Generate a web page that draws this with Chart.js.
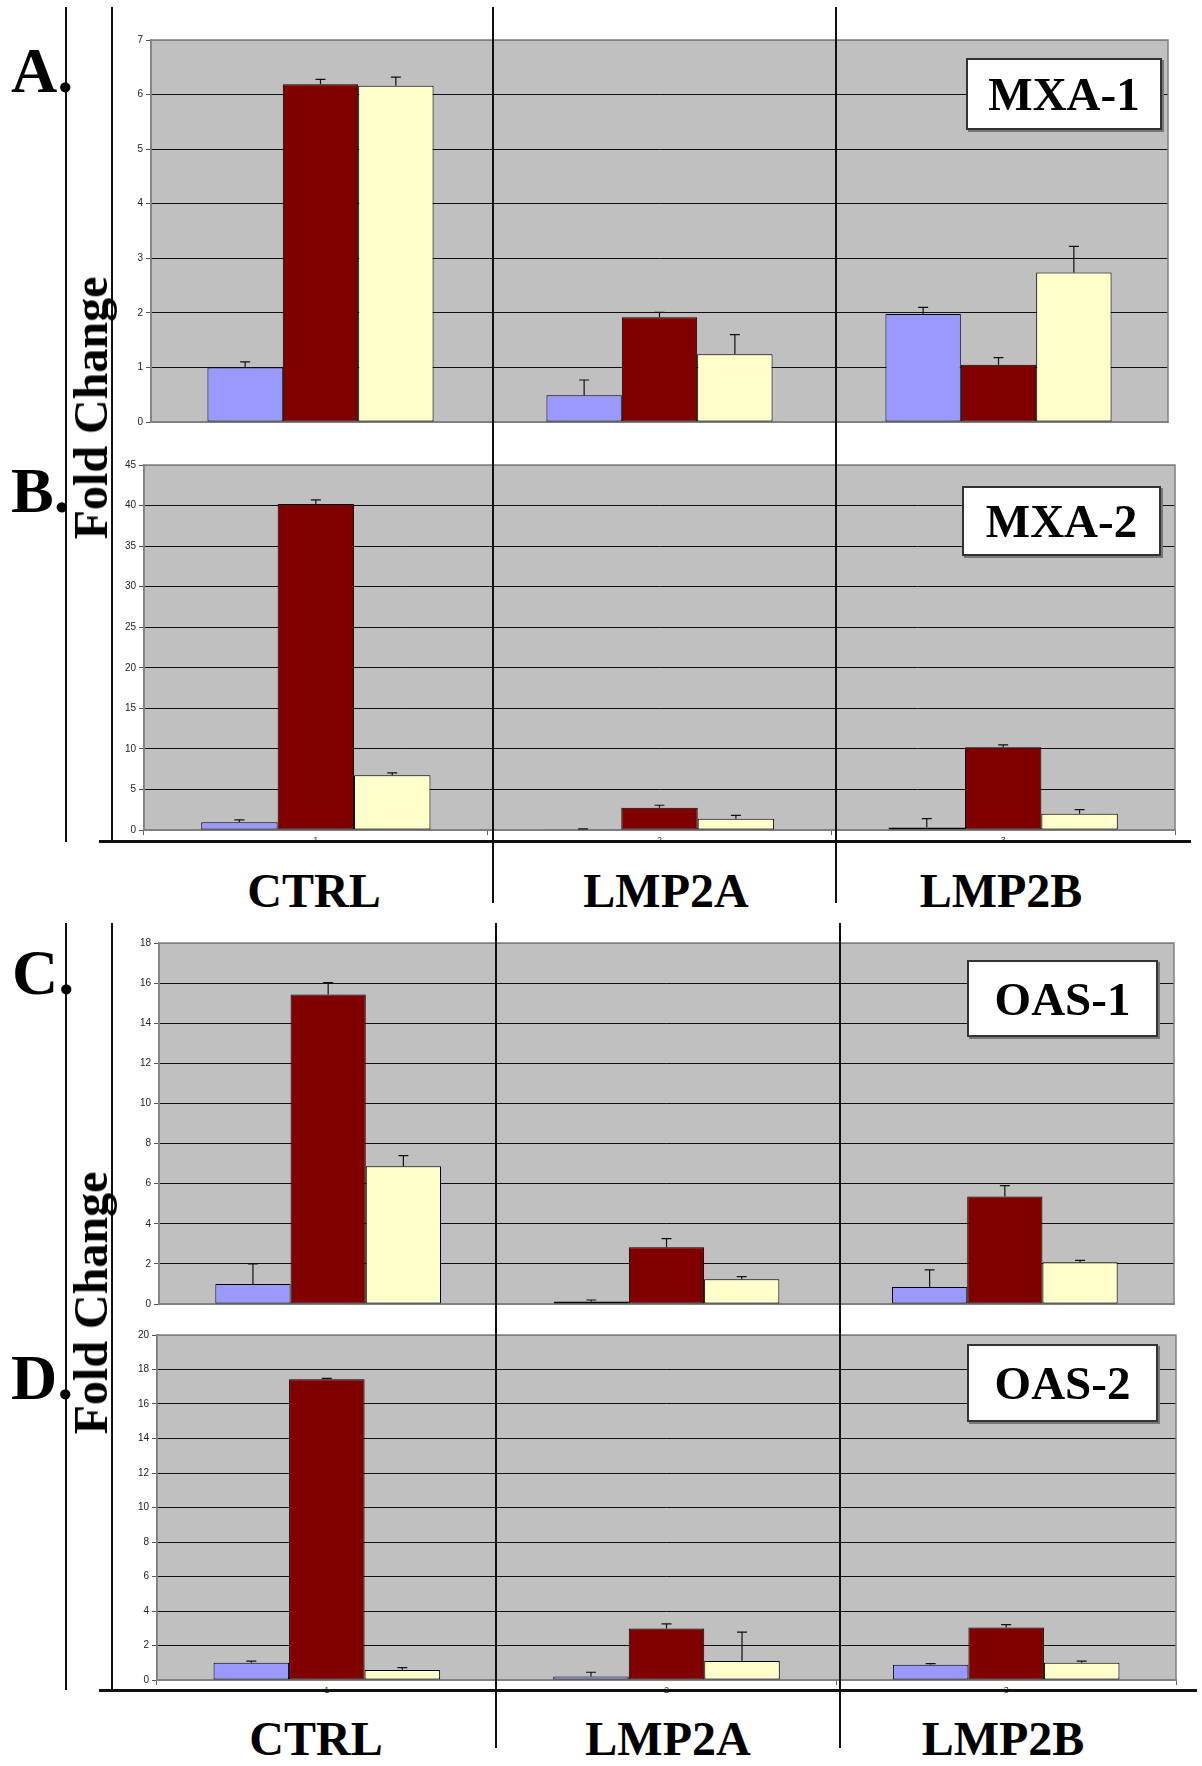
<!DOCTYPE html>
<html>
<head>
<meta charset="utf-8">
<script src="https://cdn.jsdelivr.net/npm/chart.js@4.4.0/dist/chart.umd.min.js"></script>
<style>
  body { margin: 0; background: #fff; }
  #fig { position: relative; width: 1202px; height: 1766px; overflow: hidden; }
  #fig canvas { position: absolute; }
  .ln { position: absolute; background: #111; z-index: 5; }
  .big { position: absolute; font-family: "Liberation Serif", "Times New Roman", serif; font-weight: bold; line-height: 1; white-space: nowrap; z-index: 6; color: #000; }
  .box { position: absolute; box-sizing: border-box; background: #fff; border: 2px solid #333; box-shadow: 2px 2px 0 #777;
         display: flex; align-items: center; justify-content: center; z-index: 6;
         font-family: "Liberation Serif", "Times New Roman", serif; font-weight: bold; font-size: 47px; }
</style>
</head>
<body>
<div id="fig">
  <canvas id="cA" width="1077" height="412"></canvas>
  <canvas id="cB" width="1091" height="395"></canvas>
  <canvas id="cC" width="1075" height="391"></canvas>
  <canvas id="cD" width="1079" height="375"></canvas>
</div>
<script>
// categories (excel default numbering) and group names
var categories = ['1', '2', '3'];
var groups = ['CTRL', 'LMP2A', 'LMP2B'];

// A. MXA-1
var mxa1Blue = [1.0, 0.49, 1.98];
var mxa1Red = [6.19, 1.92, 1.05];
var mxa1Yellow = [6.16, 1.24, 2.74];
var mxa1BlueErr = [0.1, 0.28, 0.12];
var mxa1RedErr = [0.09, 0.09, 0.13];
var mxa1YellowErr = [0.16, 0.36, 0.48];

// B. MXA-2
var mxa2Blue = [0.95, 0.1, 0.3];
var mxa2Red = [40.2, 2.75, 10.2];
var mxa2Yellow = [6.75, 1.4, 2.0];
var mxa2BlueErr = [0.3, 0.05, 1.1];
var mxa2RedErr = [0.5, 0.3, 0.3];
var mxa2YellowErr = [0.3, 0.4, 0.5];

// C. OAS-1
var oas1Blue = [1.0, 0.12, 0.85];
var oas1Red = [15.43, 2.83, 5.36];
var oas1Yellow = [6.87, 1.23, 2.08];
var oas1BlueErr = [1.0, 0.08, 0.85];
var oas1RedErr = [0.6, 0.43, 0.54];
var oas1YellowErr = [0.53, 0.13, 0.1];

// D. OAS-2
var oas2Blue = [1.0, 0.21, 0.89];
var oas2Red = [17.43, 2.98, 3.04];
var oas2Yellow = [0.58, 1.1, 1.0];
var oas2BlueErr = [0.1, 0.24, 0.06];
var oas2RedErr = [0.05, 0.27, 0.17];
var oas2YellowErr = [0.14, 1.67, 0.1];

var YW = 50, XH = 20, PADT = 10, PADR = 10;

var plotBg = {
  id: 'plotBg',
  beforeDraw: function(chart) {
    var a = chart.chartArea, ctx = chart.ctx;
    ctx.save();
    ctx.fillStyle = '#c0c0c0';
    ctx.fillRect(a.left, a.top, a.right - a.left, a.bottom - a.top);
    ctx.restore();
  },
  beforeDatasetsDraw: function(chart) {
    var a = chart.chartArea, ctx = chart.ctx;
    ctx.save();
    ctx.strokeStyle = '#808080';
    ctx.lineWidth = 1.5;
    ctx.strokeRect(a.left, a.top, a.right - a.left, a.bottom - a.top);
    ctx.restore();
  }
};

var errorBars = {
  id: 'errorBars',
  afterDatasetsDraw: function(chart) {
    var ctx = chart.ctx, y = chart.scales.y;
    ctx.save();
    ctx.strokeStyle = '#111';
    ctx.lineWidth = 1.2;
    chart.data.datasets.forEach(function(ds, i) {
      var meta = chart.getDatasetMeta(i);
      meta.data.forEach(function(bar, j) {
        var top = y.getPixelForValue(ds.data[j] + ds.errors[j]);
        var base = y.getPixelForValue(ds.data[j]);
        ctx.beginPath();
        ctx.moveTo(bar.x, base);
        ctx.lineTo(bar.x, top);
        ctx.moveTo(bar.x - 5, top);
        ctx.lineTo(bar.x + 5, top);
        ctx.stroke();
      });
    });
    ctx.restore();
  }
};

function dataset(values, errors, color) {
  return {
    data: values,
    errors: errors,
    backgroundColor: color,
    borderColor: '#000',
    borderWidth: 1,
    borderSkipped: false,
    categoryPercentage: 0.667,
    barPercentage: 1.0
  };
}

function makePanel(id, area, max, step, blue, red, yellow, blueErr, redErr, yellowErr, showX) {
  var cv = document.getElementById(id);
  cv.style.left = (area.l - YW) + 'px';
  cv.style.top = (area.t - PADT) + 'px';
  cv.width = (area.r - area.l) + YW + PADR;
  cv.height = (area.b - area.t) + PADT + XH;

  new Chart(cv, {
    type: 'bar',
    data: {
      labels: categories,
      datasets: [
        dataset(blue, blueErr, '#9999ff'),
        dataset(red, redErr, '#800000'),
        dataset(yellow, yellowErr, '#ffffcc')
      ]
    },
    options: {
      responsive: false,
      animation: false,
      layout: { padding: { top: PADT, right: PADR, left: 0, bottom: 0 } },
      plugins: { legend: { display: false }, tooltip: { enabled: false } },
      scales: {
        x: {
          afterFit: function(s) { s.height = XH; },
          border: { color: '#808080', width: 1.5 },
          grid: { drawOnChartArea: false, drawTicks: showX, tickLength: 5, color: '#606060' },
          ticks: { display: showX, padding: 0, color: '#333', font: { family: 'Liberation Sans, Arial', size: 9 } }
        },
        y: {
          min: 0,
          max: max,
          afterFit: function(s) { s.width = YW; },
          border: { color: '#808080', width: 1.5 },
          grid: {
            tickLength: 5,
            tickColor: '#555',
            color: function(c) {
              return (c.tick.value === 0 || c.tick.value === max) ? '#808080' : '#111';
            }
          },
          ticks: { stepSize: step, padding: 3, color: '#222', font: { family: 'Liberation Sans, Arial', size: 10 } }
        }
      }
    },
    plugins: [plotBg, errorBars]
  });
}

makePanel('cA', { l: 151, t: 40, r: 1168, b: 422 }, 7, 1,
  mxa1Blue, mxa1Red, mxa1Yellow, mxa1BlueErr, mxa1RedErr, mxa1YellowErr, false);
makePanel('cB', { l: 144, t: 465, r: 1175, b: 830 }, 45, 5,
  mxa2Blue, mxa2Red, mxa2Yellow, mxa2BlueErr, mxa2RedErr, mxa2YellowErr, true);
makePanel('cC', { l: 159, t: 943, r: 1174, b: 1304 }, 18, 2,
  oas1Blue, oas1Red, oas1Yellow, oas1BlueErr, oas1RedErr, oas1YellowErr, false);
makePanel('cD', { l: 157, t: 1335, r: 1176, b: 1680 }, 20, 2,
  oas2Blue, oas2Red, oas2Yellow, oas2BlueErr, oas2RedErr, oas2YellowErr, true);

// overlay: lines, panel letters, axis title, group names, gene boxes
var fig = document.getElementById('fig');
function add(cls, css, text) {
  var d = document.createElement('div');
  d.className = cls;
  d.style.cssText = css;
  if (text) d.textContent = text;
  fig.appendChild(d);
  return d;
}

// frame lines
add('ln', 'left:65px;top:7px;width:2px;height:835px;');
add('ln', 'left:111px;top:7px;width:2px;height:835px;');
add('ln', 'left:99px;top:840px;width:1092px;height:3px;');
add('ln', 'left:492px;top:7px;width:2px;height:896px;');
add('ln', 'left:835px;top:7px;width:2px;height:896px;');
add('ln', 'left:65px;top:923px;width:2px;height:767px;');
add('ln', 'left:111px;top:923px;width:2px;height:767px;');
add('ln', 'left:99px;top:1689px;width:1098px;height:3px;');
add('ln', 'left:495px;top:923px;width:2px;height:825px;');
add('ln', 'left:839px;top:923px;width:2px;height:825px;');

// panel letters
add('big', 'left:11px;top:39px;font-size:64px;', 'A.');
add('big', 'left:11px;top:459px;font-size:64px;', 'B.');
add('big', 'left:12px;top:941px;font-size:64px;', 'C.');
add('big', 'left:11px;top:1346px;font-size:64px;', 'D.');

// y axis titles
add('big', 'left:91px;top:408px;font-size:48px;transform:translate(-50%,-50%) rotate(-90deg);', 'Fold Change');
add('big', 'left:91px;top:1303px;font-size:48px;transform:translate(-50%,-50%) rotate(-90deg);', 'Fold Change');

// group names under B and D
var groupX = [314, 666, 1001];
groups.forEach(function(g, i) {
  add('big', 'left:' + groupX[i] + 'px;top:867px;font-size:48px;transform:translateX(-50%);', g);
  add('big', 'left:' + (groupX[i] + 2) + 'px;top:1715px;font-size:48px;transform:translateX(-50%);', g);
});

// gene boxes
add('box', 'left:966px;top:58px;width:196px;height:72px;', 'MXA-1');
add('box', 'left:962px;top:486px;width:199px;height:70px;', 'MXA-2');
add('box', 'left:967px;top:960px;width:191px;height:77px;', 'OAS-1');
add('box', 'left:967px;top:1344px;width:191px;height:78px;', 'OAS-2');
</script>
</body>
</html>
